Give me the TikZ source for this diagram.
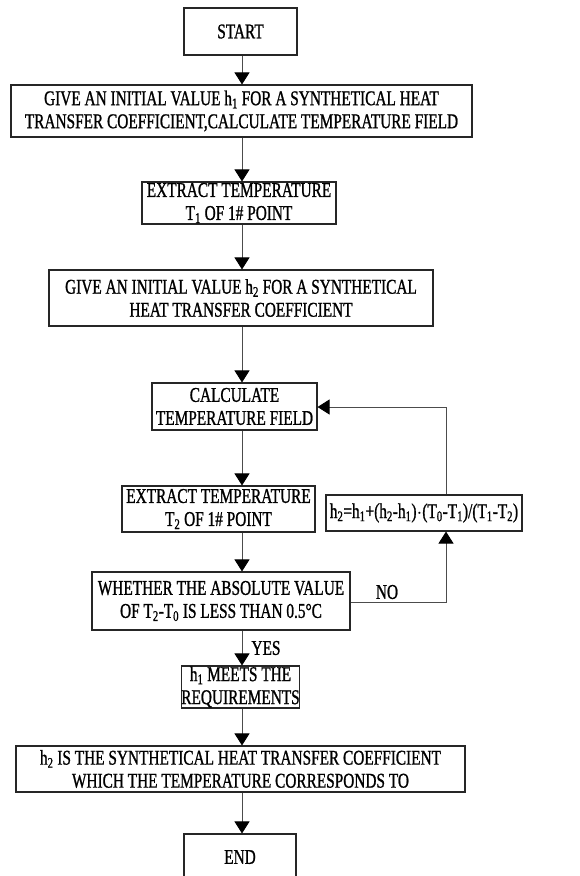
\documentclass[tikz,border=0pt]{standalone}
\usepackage{fontspec}
\setmainfont[FakeStretch=0.73,FakeBold=1]{Liberation Serif}
\usetikzlibrary{arrows.meta}
\begin{document}
\begin{tikzpicture}[x=1pt,y=-1pt,
  box/.style={draw=black!85,line width=1.1pt,inner sep=0pt,align=center,font=\fontsize{21}{23}\selectfont},
  conn/.style={draw=black!70,line width=0.9pt,-{Triangle[width=15pt,length=12pt,color=black]}},
  lbl/.style={font=\fontsize{21}{23}\selectfont,inner sep=0pt}]
\useasboundingbox (0,0) rectangle (579,876);
\clip (0,0) rectangle (579,876);
\coordinate (ax) at (242,0);
\node[box,minimum width=113pt,minimum height=47pt] (start) at (240.5,31.5) {START};
\node[box,minimum width=461pt,minimum height=52pt] (b1) at (241.5,111) {GIVE AN INITIAL VALUE h\textsubscript{1} FOR A SYNTHETICAL HEAT\\TRANSFER COEFFICIENT,CALCULATE TEMPERATURE FIELD};
\node[box,minimum width=194pt,minimum height=42pt] (b2) at (239,203) {EXTRACT TEMPERATURE\\T\textsubscript{1} OF 1\# POINT};
\node[box,minimum width=384pt,minimum height=56pt] (b3) at (241,298) {GIVE AN INITIAL VALUE h\textsubscript{2} FOR A SYNTHETICAL\\HEAT TRANSFER COEFFICIENT};
\node[box,minimum width=165pt,minimum height=47pt] (b4) at (234.5,406.5) {CALCULATE\\TEMPERATURE FIELD};
\node[box,minimum width=193pt,minimum height=46pt] (b5) at (218.5,509) {EXTRACT TEMPERATURE\\T\textsubscript{2} OF 1\# POINT};
\node[box,minimum width=196pt,minimum height=36pt] (f) at (424,513) {h\textsubscript{2}=h\textsubscript{1}+(h\textsubscript{2}-h\textsubscript{1})$\cdot$(T\textsubscript{0}-T\textsubscript{1})/(T\textsubscript{1}-T\textsubscript{2})};
\node[box,minimum width=258pt,minimum height=58pt] (b6) at (221,601) {WHETHER THE ABSOLUTE VALUE\\OF T\textsubscript{2}-T\textsubscript{0} IS LESS THAN 0.5°C};
\node[box,minimum width=115pt,minimum height=42pt] (b7) at (240.5,687) {h\textsubscript{1} MEETS THE\\REQUIREMENTS};
\node[box,minimum width=449pt,minimum height=46pt] (b8) at (240.5,769) {h\textsubscript{2} IS THE SYNTHETICAL HEAT TRANSFER COEFFICIENT\\WHICH THE TEMPERATURE CORRESPONDS TO};
\node[box,minimum width=112pt,minimum height=46pt] (end) at (240,857) {END};
\node[lbl] (no) at (387,592) {NO};
\node[lbl] (yes) at (266,648) {YES};
\coordinate (r1) at (446,602);
\coordinate (r2) at (446,407);
\draw[conn] (start.south -| ax) -- (b1.north -| ax);
\draw[conn] (b1.south -| ax) -- (b2.north -| ax);
\draw[conn] (b2.south -| ax) -- (b3.north -| ax);
\draw[conn] (b3.south -| ax) -- (b4.north -| ax);
\draw[conn] (b4.south -| ax) -- (b5.north -| ax);
\draw[conn] (b5.south -| ax) -- (b6.north -| ax);
\draw[conn] (b6.south -| ax) -- (b7.north -| ax);
\draw[conn] (b7.south -| ax) -- (b8.north -| ax);
\draw[conn] (b8.south -| ax) -- (end.north -| ax);
\draw[conn] (b6.east |- r1) -- (r1) -- (f.south -| r1);
\draw[conn] (f.north -| r2) -- (r2) -- (b4.east |- r2);
\end{tikzpicture}
\end{document}
